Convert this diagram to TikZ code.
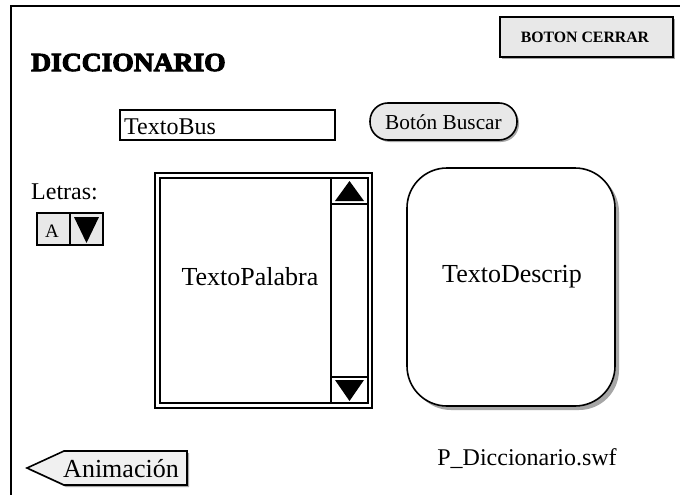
\documentclass[tikz,border=0pt]{standalone}
\usepackage{fontspec}
\setmainfont{Liberation Serif}
\newfontfamily\fatfont[FakeBold=4, FakeStretch=1.06]{Liberation Serif Bold}
\usetikzlibrary{shapes.geometric}
\tikzset{
  frameline/.style={line width=2pt},
  uibox/.style={draw, line width=1.6pt, inner sep=0pt, anchor=center},
  graybox/.style={uibox, fill=gray!18},
  shadowc/.style={fill=gray!70, draw=none},
  tri/.style={fill=black, draw=none},
  lbl/.style={inner sep=0pt, font=\fontsize{24}{26}\selectfont}
}
\begin{document}
\begin{tikzpicture}[x=1pt,y=-1pt]
\useasboundingbox (0,0) rectangle (680,495);
\fill[white] (0,0) rectangle (680,495);
% frame
\draw[frameline] (11,496) -- (11,6) -- (681,6);
% title
\node[inner sep=0pt, anchor=base west, font=\fatfont\fontsize{26}{28}\selectfont] (title) at (31,71) {DICCIONARIO};
% close button
\fill[shadowc] (502,19) rectangle (675,59);
\node[graybox, minimum width=173pt, minimum height=40pt] (cerrar) at (586.5,37) {};
\node[inner sep=0pt, font=\bfseries\fontsize{15.8}{17}\selectfont] (cerrart) at (585,37) {BOTON CERRAR};
% search text
\node[uibox, fill=white, minimum width=215pt, minimum height=30pt] (bus) at (227.5,125) {};
\node[lbl, anchor=west, font=\fontsize{24}{26}\selectfont] (bust) at (124,127) {TextoBus};
% search button
\fill[shadowc, rounded corners=18pt] (372,105) rectangle (519,142);
\node[graybox, rounded corners=18pt, minimum width=147pt, minimum height=37pt] (buscar) at (443.5,121.5) {};
\node[inner sep=0pt, font=\fontsize{21.3}{23}\selectfont] (buscart) at (443.5,122) {Botón Buscar};
% letras
\node[lbl, anchor=west, font=\fontsize{24}{26}\selectfont] (letras) at (31,192) {Letras:};
\node[graybox, minimum width=33pt, minimum height=32pt] (abox) at (53.5,229) {};
\node[inner sep=0pt, font=\fontsize{19}{21}\selectfont] (atext) at (52,231) {A};
\node[graybox, minimum width=33pt, minimum height=32pt] (adown) at (86.5,229) {};
\fill[tri] (74,217) -- (99,217) -- (86.5,243) -- cycle;
% list box
\node[draw, line width=2.4pt, inner sep=0pt, minimum width=217pt, minimum height=235pt] (listout) at (263.5,290.5) {};
\node[draw, line width=2.2pt, inner sep=0pt, minimum width=208pt, minimum height=225pt] (listin) at (264,290.5) {};
\draw[line width=1.6pt] (331,178) -- (331,403);
\draw[line width=1.2pt] (331,204) -- (368,204);
\draw[line width=1.2pt] (331,377) -- (368,377);
\fill[tri] (349.5,181) -- (364,201) -- (335,201) -- cycle;
\fill[tri] (335,380) -- (364,380) -- (349.5,401) -- cycle;
\node[lbl, font=\fontsize{26}{28}\selectfont] (palabra) at (250,277) {TextoPalabra};
% description
\fill[shadowc, rounded corners=40pt] (411,172) rectangle (619,410);
\node[draw, line width=1.6pt, fill=white, rounded corners=40pt, inner sep=0pt, minimum width=208pt, minimum height=238pt] (descrip) at (511,287) {};
\node[lbl, font=\fontsize{26}{28}\selectfont] (descript) at (512,277) {TextoDescrip};
% file name
\node[lbl, font=\fontsize{24}{26}\selectfont] (file) at (527,459) {P\_Diccionario.swf};
% animacion arrow
\fill[shadowc] (29,470) -- (66,453) -- (189,453) -- (189,487) -- (66,487) -- cycle;
\draw[line width=1.6pt, fill=gray!12] (27,468) -- (64,451) -- (187,451) -- (187,485) -- (64,485) -- cycle;
\node[lbl, font=\fontsize{26}{28}\selectfont] (anim) at (121,469) {Animación};
\end{tikzpicture}
\end{document}
